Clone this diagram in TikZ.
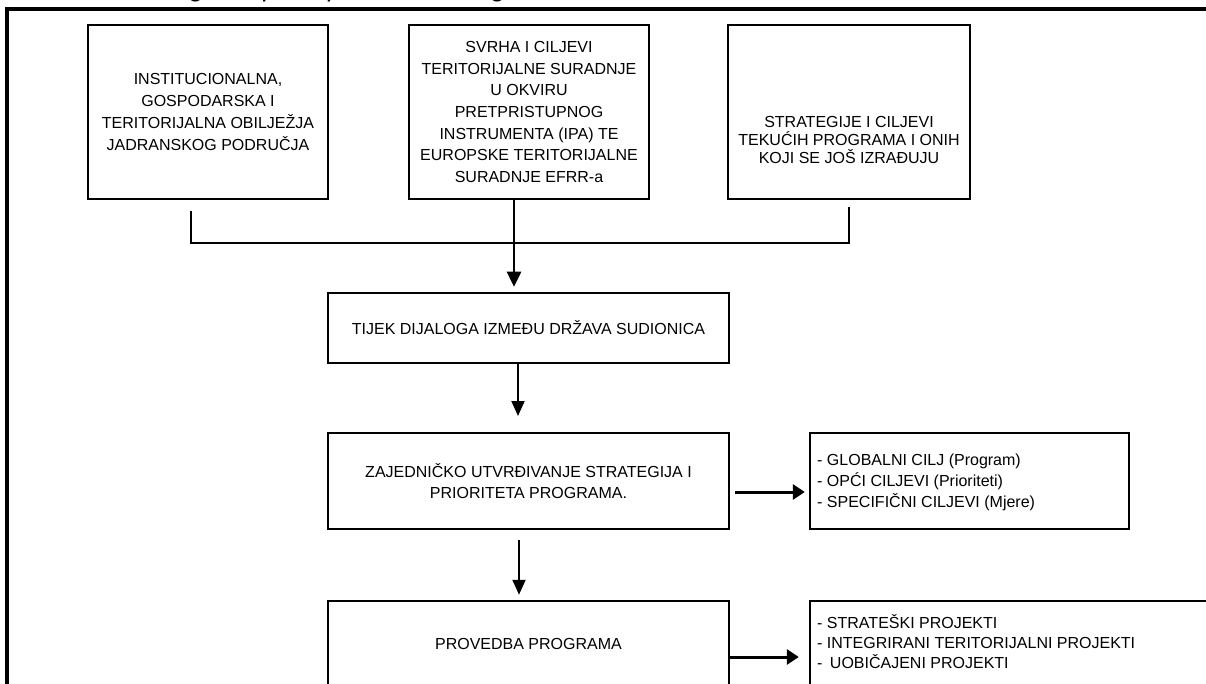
\documentclass[tikz,border=0pt]{standalone}
\usepackage{fontspec}
\setmainfont{Liberation Sans}
\usetikzlibrary{arrows.meta,calc}
\begin{document}
\begin{tikzpicture}[x=1pt,y=-1pt,
  box/.style={draw, line width=2.5pt, inner sep=0pt, align=center,
    font=\fontsize{16}{21.7}\selectfont},
  txt/.style={inner sep=0pt, font=\fontsize{16}{21}\selectfont},
  conn/.style={line width=2pt},
  arrv/.style={line width=2.5pt, -{Triangle[width=14pt,length=15pt]}},
  arrv2/.style={line width=2pt, -{Triangle[width=13pt,length=15pt]}},
  arrh/.style={line width=3pt, -{Triangle[width=15pt,length=12pt]}}]
\path[use as bounding box] (0,0) rectangle (1206,684);
\clip (0,0) rectangle (1206,684);
% cut-off title
\node[anchor=base west, inner sep=0pt, font=\itshape\fontsize{26.5}{30}\selectfont] (title) at (21,-3) {Grafikon 1: Logički i postupni model Programa};
% outer frame
\draw[line width=3.5pt] (7,9) rectangle (1300,800);
% top boxes
\node[box, minimum width=240pt, minimum height=174pt] (b1) at (208,112)
  {INSTITUCIONALNA,\\GOSPODARSKA I\\TERITORIJALNA OBILJEŽJA\\JADRANSKOG PODRUČJA};
\node[box, minimum width=240pt, minimum height=174pt] (b2) at (529,112)
  {SVRHA I CILJEVI\\TERITORIJALNE SURADNJE\\U OKVIRU\\PRETPRISTUPNOG\\INSTRUMENTA (IPA) TE\\EUROPSKE TERITORIJALNE\\SURADNJE EFRR-a};
\node[box, minimum width=242pt, minimum height=174pt] (b3) at (849,112) {};
\node[txt, align=center, font=\fontsize{16}{18.3}\selectfont] (t3) at (849,140)
  {STRATEGIJE I CILJEVI\\TEKUĆIH PROGRAMA I ONIH\\KOJI SE JOŠ IZRAĐUJU};
% middle boxes
\node[box, minimum width=401pt, minimum height=70pt] (b4) at (528.5,328)
  {TIJEK DIJALOGA IZMEĐU DRŽAVA SUDIONICA};
\node[box, minimum width=401pt, minimum height=96pt, font=\fontsize{16}{21}\selectfont] (b5) at (528.5,481)
  {ZAJEDNIČKO UTVRĐIVANJE STRATEGIJA I\\PRIORITETA PROGRAMA.};
\node[box, minimum width=319pt, minimum height=96pt] (b6) at (969.5,481) {};
\node[txt, anchor=west, align=left] (t6) at (817,482)
  {- GLOBALNI CILJ (Program)\\- OPĆI CILJEVI (Prioriteti)\\- SPECIFIČNI CILJEVI (Mjere)};
% bottom boxes
\node[box, minimum width=401pt, minimum height=85pt] (b7) at (528.5,643.5)
  {PROVEDBA PROGRAMA};
\node[box, minimum width=440pt, minimum height=85pt] (b8) at (1030,643.5) {};
\node[txt, anchor=west, align=left, font=\fontsize{16}{20}\selectfont] (t8) at (817,642)
  {- STRATEŠKI PROJEKTI\\- INTEGRIRANI TERITORIJALNI PROJEKTI\\- \hspace{3pt}UOBIČAJENI PROJEKTI};
% collector line under top boxes
\coordinate (k1) at (191,211);
\coordinate (h1) at (191,243);
\coordinate (h3) at (849,243);
\coordinate (k3) at (849,207);
\draw[conn] (k1) -- (h1) -- (h3) -- (k3);
% main vertical arrows
\coordinate (c2) at (514,199);
\draw[arrv, shorten >=5pt] (c2) -- (c2 |- b4.north);
\coordinate (a2e) at (518,416);
\draw[arrv2] (b4.south -| a2e) -- (a2e);
\coordinate (a3s) at (519,540);
\draw[arrv2, shorten >=5pt] (a3s) -- (a3s |- b7.north);
% horizontal arrows
\coordinate (r1) at (735,492);
\draw[arrh, shorten >=4pt] (r1) -- (r1 -| b6.west);
\coordinate (r2) at (0,657);
\draw[arrh, shorten >=10pt] (b7.east |- r2) -- (b8.west |- r2);
\end{tikzpicture}
\end{document}
